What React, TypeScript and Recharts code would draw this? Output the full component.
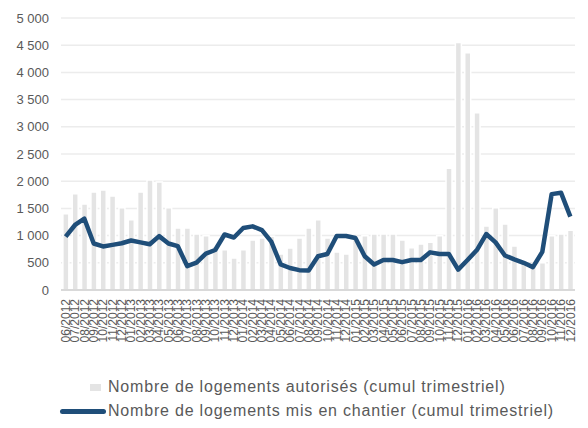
import { Bar, CartesianGrid, ComposedChart, Legend, Line, XAxis, YAxis } from 'recharts'

// Monthly quarterly-cumulated housing figures, 06/2012 to 12/2016.

const months = [
  '06/2012', '07/2012', '08/2012', '09/2012', '10/2012', '11/2012', '12/2012',
  '01/2013', '02/2013', '03/2013', '04/2013', '05/2013', '06/2013', '07/2013', '08/2013', '09/2013', '10/2013', '11/2013', '12/2013',
  '01/2014', '02/2014', '03/2014', '04/2014', '05/2014', '06/2014', '07/2014', '08/2014', '09/2014', '10/2014', '11/2014', '12/2014',
  '01/2015', '02/2015', '03/2015', '04/2015', '05/2015', '06/2015', '07/2015', '08/2015', '09/2015', '10/2015', '11/2015', '12/2015',
  '01/2016', '02/2016', '03/2016', '04/2016', '05/2016', '06/2016', '07/2016', '08/2016', '09/2016', '10/2016', '11/2016', '12/2016',
]

const autorises = [
  1400, 1770, 1580, 1800, 1840, 1730, 1510,
  1290, 1800, 2020, 1985, 1510, 1140, 1140, 1030, 995, 800, 740, 590,
  740, 920, 955, 990, 660, 770, 955, 1140, 1290, 955, 700, 660,
  960, 995, 1030, 1030, 1030, 920, 775, 845, 880, 995, 2240, 4550,
  4360, 3260, 1175, 1510, 1215, 810, 520, 450, 500, 995, 1030, 1100,
]

const chantier = [
  980, 1195, 1310, 855, 800, 830, 860,
  910, 875, 840, 990, 855, 805, 440, 505, 670, 735, 1020, 965,
  1140, 1170, 1100, 890, 470, 404, 365, 360, 620, 662, 993, 993,
  955, 620, 470, 551, 551, 512, 551, 551, 692, 662, 662, 375,
  551, 735, 1029, 875, 635, 564, 500, 420, 700, 1762, 1789, 1348,
]

const yTicks = [0, 500, 1000, 1500, 2000, 2500, 3000, 3500, 4000, 4500, 5000]

const labelAutorises = 'Nombre de logements autorisés (cumul trimestriel)'
const labelChantier = 'Nombre de logements mis en chantier (cumul trimestriel)'

const data = months.map((m, i) => ({ month: m, autorises: autorises[i], chantier: chantier[i] }))

const FONT = '"Liberation Sans", Arial, sans-serif'
const TEXT = '#595959'
const GREY = '#e4e4e4'
const BLUE = '#1f4e79'

const formatThousands = (v: number) => String(v).replace(/\B(?=(\d{3})+(?!\d))/g, ' ')

function MonthTick({ x, y, payload }: any) {
  return (
    <g transform={`translate(${x},${y})`}>
      <text transform="rotate(-90)" x={0} y={0} dy="0.35em" textAnchor="end" fill={TEXT} fontSize={12} fontFamily={FONT}>
        {payload.value}
      </text>
    </g>
  )
}

function ChartLegend() {
  const text = { position: 'absolute', left: 108, height: 24, lineHeight: '24px', whiteSpace: 'nowrap', letterSpacing: 0.8 } as const
  return (
    <div style={{ position: 'relative', width: 575, height: 62, fontFamily: FONT, fontSize: 16, color: TEXT }}>
      <div style={{ position: 'absolute', left: 90, top: 23, width: 11, height: 7, background: GREY }} />
      <div style={{ ...text, top: 14 }}>{labelAutorises}</div>
      <div style={{ position: 'absolute', left: 60, top: 48, width: 46, height: 5, background: BLUE, borderRadius: 2.5 }} />
      <div style={{ ...text, top: 38 }}>{labelChantier}</div>
    </div>
  )
}

export default function App() {
  return (
    <div style={{ position: 'absolute', left: 0, top: 0, width: 588, height: 428, background: '#fff' }}>
      <ComposedChart
        width={588}
        height={428}
        data={data}
        margin={{ top: 18, right: 13, left: 0, bottom: 5 }}
        barCategoryGap="20%"
      >
        <CartesianGrid stroke="#ececec" strokeWidth={1.5} vertical={false} />
        <XAxis
          dataKey="month"
          interval={0}
          height={71}
          tickLine={false}
          tickSize={0}
          tickMargin={9}
          axisLine={{ stroke: '#d9d9d9', strokeWidth: 2 }}
          tick={<MonthTick />}
        />
        <YAxis
          domain={[0, 5000]}
          ticks={yTicks}
          width={61}
          axisLine={false}
          tickLine={false}
          tickSize={0}
          tickMargin={12}
          tick={{ fill: TEXT, fontSize: 13, fontFamily: FONT }}
          tickFormatter={(v) => formatThousands(Number(v))}
        />
        <Legend verticalAlign="bottom" align="left" content={() => <ChartLegend />} />
        <Bar dataKey="autorises" name={labelAutorises} fill={GREY} stroke="#fff" strokeWidth={1.5} isAnimationActive={false} />
        <Line
          type="linear"
          dataKey="chantier"
          name={labelChantier}
          stroke={BLUE}
          strokeWidth={4.5}
          strokeLinejoin="round"
          dot={false}
          activeDot={false}
          isAnimationActive={false}
        />
      </ComposedChart>
    </div>
  )
}
